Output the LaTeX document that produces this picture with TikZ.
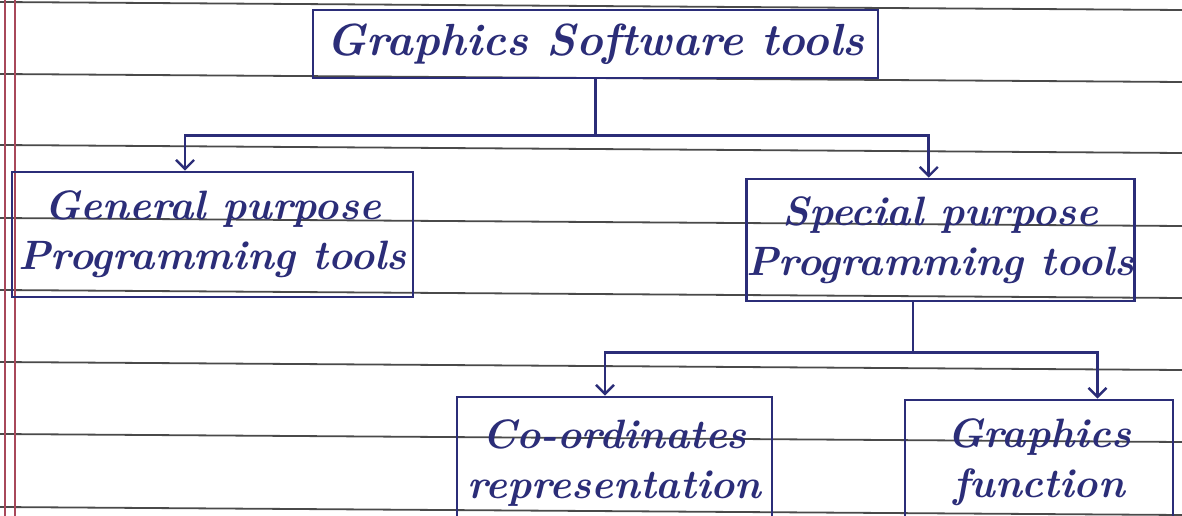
\documentclass[tikz,border=0pt]{standalone}
\usetikzlibrary{arrows.meta,calc}
\definecolor{ink}{HTML}{2B2D78}
\definecolor{rulegrey}{HTML}{4A4A4A}
\definecolor{marginred}{HTML}{A8485A}
\newcommand\handfont{\fontsize{41}{50}\selectfont\bfseries\itshape}
\newcommand\bighand{\fontsize{45}{50}\selectfont\bfseries\itshape}
\begin{document}
\begin{tikzpicture}[x=1pt,y=-1pt,
  box/.style={draw=ink, line width=2.8pt, text=ink, align=center, font=\handfont, inner sep=0pt},
  link/.style={draw=ink, line width=2.6pt},
  arr/.style={link, -{Straight Barb[length=9pt,width=18pt,line width=2.4pt]}},
  ruling/.style={draw=rulegrey, line width=1.8pt},
  margin/.style={draw=marginred, line width=1.4pt},
  ]
  \useasboundingbox (0,0) rectangle (1182,516);
  \clip (0,0) rectangle (1182,516);
  \fill[white] (0,0) rectangle (1182,516);

  % notebook ruling and margin
  \foreach \y in {2,74,145,218,290,362,434,507}
    \draw[ruling] (0,\y) -- (1182,\y+8);
  \draw[margin] (5,0) -- (5,516);
  \draw[margin] (15,0) -- (15,516);

  % boxes
  \node[box, font=\bighand, minimum width=565pt, minimum height=68pt] (gst) at (595.5,44) {Graphics Software tools};
  \node[box, minimum width=401pt, minimum height=125pt] (gen) at (212.5,234.5) {General purpose\\Programming tools};
  \node[box, minimum width=385pt, minimum height=122pt] (spe) at (940.5,240) {Special purpose\\Programming tools};
  \node[box, minimum width=315pt, minimum height=132pt] (coo) at (614.5,463) {Co-ordinates\\representation};
  \node[box, minimum width=268pt, minimum height=124pt] (gfn) at (1039,462) {Graphics\\function};

  % attachment points along box edges
  \coordinate (genin) at ($(gen.north west)!0.432!(gen.north east)$);
  \coordinate (spein) at ($(spe.north west)!0.47!(spe.north east)$);
  \coordinate (speout) at ($(spe.south west)!0.43!(spe.south east)$);
  \coordinate (cooin) at ($(coo.north west)!0.47!(coo.north east)$);
  \coordinate (gfnin) at ($(gfn.north west)!0.716!(gfn.north east)$);
  \coordinate (j1) at ($(gst.south)+(0,56)$);
  \coordinate (j2) at ($(speout)+(0,50)$);

  % connectors
  \draw[link] (gst.south) -- (j1);
  \draw[arr] (j1) -| (genin);
  \draw[arr] (j1) -| (spein);
  \draw[link] (speout) -- (j2);
  \draw[arr] (j2) -| (cooin);
  \draw[arr] (j2) -| (gfnin);
\end{tikzpicture}
\end{document}
